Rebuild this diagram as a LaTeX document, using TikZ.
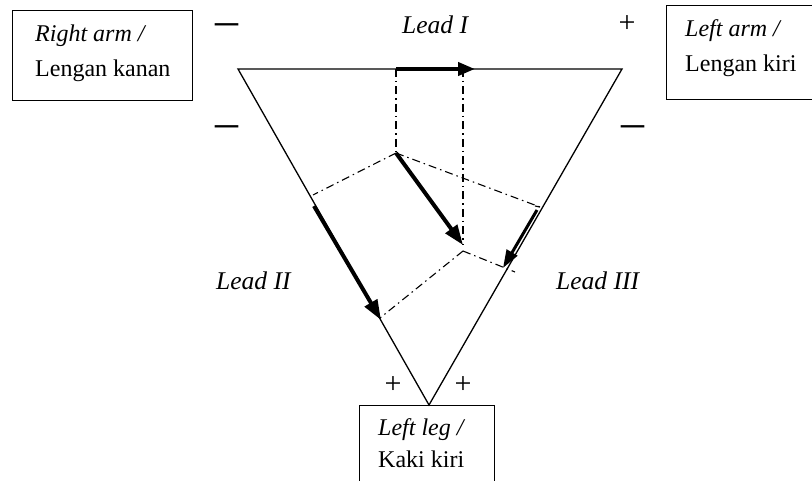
\documentclass[tikz,border=0pt]{standalone}
\usepackage{fontspec}
\setmainfont{Liberation Serif}
\usetikzlibrary{arrows.meta}
\begin{document}
\begin{tikzpicture}[x=1pt,y=-1pt,
  lbl/.style={font=\fontsize{24}{28}\selectfont, inner sep=0pt},
  lead/.style={font=\fontsize{25.5}{28}\selectfont\itshape, inner sep=0pt},
  minus/.style={font=\fontsize{46}{48}\selectfont, inner sep=0pt},
  plus/.style={font=\fontsize{30}{32}\selectfont, inner sep=0pt},
  box/.style={draw, line width=1.2pt, inner sep=0pt},
  edge/.style={line width=1.3pt},
  proj/.style={line width=1.1pt, dash pattern=on 8pt off 4pt on 1.5pt off 4pt}]
\useasboundingbox (0,0) rectangle (812,481);
\clip (0,0) rectangle (812,481);
\fill[white] (0,0) rectangle (812,481);

% boxes
\node[box, minimum width=180pt, minimum height=90pt, anchor=north west] (ra) at (12,10) {};
\node[box, minimum width=160pt, minimum height=94pt, anchor=north west] (la) at (666,5) {};
\node[box, minimum width=135pt, minimum height=100pt, anchor=north west] (ll) at (359,405) {};

\node[lbl, anchor=base west] (ra1) at (35,42) {\itshape Right arm /};
\node[lbl, anchor=base west] (ra2) at (35,77) {Lengan kanan};
\node[lbl, anchor=base west] (la1) at (685,37) {\itshape Left arm /};
\node[lbl, anchor=base west] (la2) at (685,72) {Lengan kiri};
\node[lbl, anchor=base west] (ll1) at (378,435) {\itshape Left leg /};
\node[lbl, anchor=base west] (ll2) at (378,467) {Kaki kiri};

% triangle
\coordinate (A) at (238,69);
\coordinate (B) at (622,69);
\coordinate (C) at (429,405);
\draw[edge] (A) -- (B) -- (C) -- cycle;

% lead labels
\node[lead, anchor=base west] (l1) at (402,34) {Lead I};
\node[lead, anchor=base west] (l2) at (216,290) {Lead II};
\node[lead, anchor=base west] (l3) at (556,290) {Lead III};

% signs
\node[minus] (s1) at (226.5,30) {\textendash};
\node[minus] (s2) at (226.5,132) {\textendash};
\node[minus] (s3) at (632.5,132) {\textendash};
\node[plus, anchor=base] (s4) at (627,33) {+};
\node[plus, anchor=base] (s5) at (393,393) {+};
\node[plus, anchor=base] (s6) at (463,393) {+};

% projection points
\coordinate (P) at (396,153);
\coordinate (Q) at (463,245);
\coordinate (Qb) at (463,251);
\coordinate (I1) at (396,69);
\coordinate (I2) at (475,69);
\coordinate (I2b) at (463,69);
\coordinate (L2a) at (313,195);
\coordinate (L2s) at (314,206);
\coordinate (L2e) at (381,320);
\coordinate (L2d) at (380,318);
\coordinate (L3a) at (540,207);
\coordinate (L3s) at (537,210);
\coordinate (L3e) at (503,268);
\coordinate (L3d) at (515,272);

% projection lines
\draw[proj] (I1) -- (P);
\draw[proj] (I2b) -- (Q);
\draw[proj] (P) -- (L2a);
\draw[proj] (P) -- (L3a);
\draw[proj] (Qb) -- (L2d);
\draw[proj] (Qb) -- (L3d);
\draw[line width=1.1pt] (L3a) -- (535,206);

% vectors
\draw[line width=4pt, -{Triangle[length=17pt,width=13pt]}] (I1) -- (I2);
\draw[line width=4pt, -{Triangle[length=20pt,width=14pt]}] (P) -- (Q);
\draw[line width=4pt, -{Triangle[length=20pt,width=14pt]}] (L2s) -- (L2e);
\draw[line width=3pt, -{Triangle[length=18pt,width=12pt]}] (L3s) -- (L3e);
\end{tikzpicture}
\end{document}
